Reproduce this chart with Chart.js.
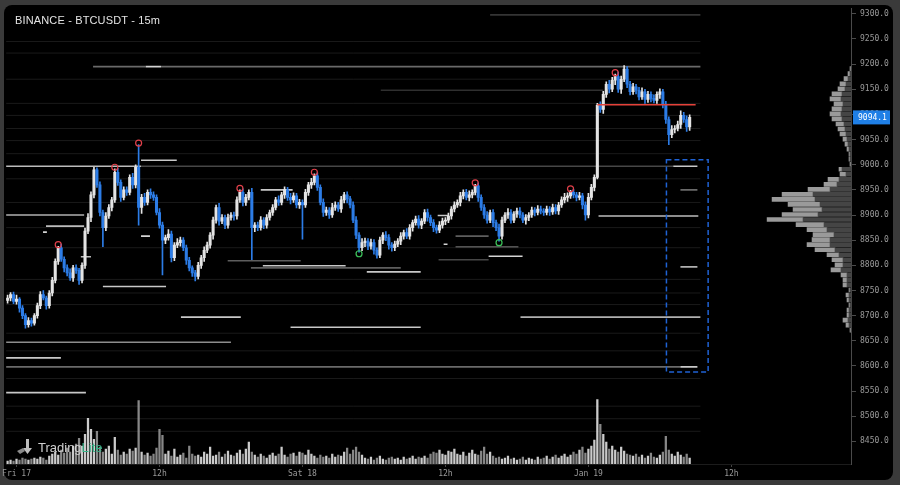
<!DOCTYPE html>
<html><head><meta charset="utf-8">
<script src="https://cdn.jsdelivr.net/npm/chart.js@4/dist/chart.umd.min.js"></script>
<style>
html,body{margin:0;padding:0;background:#3a3a3a;width:900px;height:485px;overflow:hidden}
#panel{position:absolute;left:4px;top:5px;width:889px;height:475px;background:#000;border-radius:8px}
#c{position:absolute;left:0;top:0}
#title{position:absolute;left:15px;top:14px;font:11px "Liberation Sans",Arial,sans-serif;color:#e4e4e4;letter-spacing:0.15px}
#logo{position:absolute;left:16px;top:439px;font:13px "Liberation Sans",Arial,sans-serif;color:#cfcfcf;display:flex;align-items:center;gap:4px}
#logo b{font-weight:normal;color:#36b58a}
</style></head>
<body>
<div id="panel"></div>
<canvas id="c" width="900" height="485"></canvas>
<div id="title">BINANCE - BTCUSDT - 15m</div>
<div id="logo"><svg width="18" height="16" viewBox="0 0 18 16"><path d="M10 0 L13 0 L13 9 L16 9 L11.5 15 L7 9 L10 9 Z" fill="#bdbdbd"/><path d="M1 12 L7 9 L9 12 L4 15 Z" fill="#8a8a8a"/></svg><span>Trading<b>Lite</b></span></div>
<script>
// ---- data (15m candles, first candle Jan 16 23:15) ----
const firstOpen = 8730;
const closes = [
8735,8742,8728,8733,8715,8700,8682,8690,8685,8700,
8720,8742,8735,8720,8745,8770,8808,8835,8812,8795,
8785,8775,8795,8790,8770,8800,8868,8895,8940,8990,
8960,8905,8875,8898,8915,8930,8985,8965,8935,8950,
8945,8975,8960,8995,8915,8935,8925,8945,8940,8935,
8905,8880,8850,8855,8862,8815,8840,8845,8850,8835,
8810,8795,8785,8778,8800,8815,8830,8840,8860,8890,
8915,8888,8895,8880,8895,8900,8898,8930,8945,8925,
8935,8945,8875,8880,8875,8890,8880,8895,8905,8915,
8930,8925,8940,8950,8935,8930,8938,8920,8925,8920,
8945,8960,8965,8978,8955,8925,8905,8910,8900,8915,
8920,8912,8930,8940,8932,8920,8890,8860,8835,8845,
8848,8838,8845,8830,8820,8850,8860,8855,8840,8835,
8842,8848,8858,8865,8858,8875,8885,8892,8880,8888,
8905,8895,8885,8875,8870,8880,8888,8890,8898,8912,
8920,8925,8938,8945,8935,8940,8945,8958,8935,8915,
8900,8890,8905,8885,8875,8858,8890,8900,8905,8890,
8902,8908,8900,8890,8895,8900,8910,8905,8912,8908,
8905,8912,8906,8915,8908,8920,8930,8935,8938,8945,
8940,8935,8938,8920,8900,8935,8955,8975,9118,9110,
9140,9160,9150,9168,9175,9150,9170,9190,9160,9145,
9155,9148,9135,9145,9130,9140,9132,9128,9140,9145,
9120,9090,9060,9070,9072,9080,9098,9090,9075,9094.1];
const wickHi = [
6,4,5,8,3,5,4,6,5,4, 5,6,8,4,5,6,5,3,7,5, 6,8,5,6,4,5,6,8,6,5, 4,6,5,7,6,5,7,8,5,6,
6,5,8,5,45,6,8,5,7,6, 5,8,6,5,9,6,5,8,6,5, 5,6,4,5,6,5,7,6,5,6, 5,8,6,5,7,5,6,6,5,7,
6,5,8,5,6,7,5,6,5,6, 5,8,5,6,5,8,6,5,6,5, 6,5,8,4,6,5,7,6,5,8, 6,5,7,5,6,5,6,7,5,8,
6,5,7,6,5,6,5,7,6,5, 6,5,7,5,8,6,5,6,7,5, 6,7,5,6,5,7,6,5,6,5, 6,5,7,5,6,8,5,3,6,5,
6,7,5,6,5,7,6,5,8,6, 5,6,7,5,6,5,6,5,7,6, 5,6,5,7,6,5,6,8,6,4, 6,5,7,5,6,8,6,5,4,7,
6,5,8,6,5,9,6,7,5,6, 7,5,6,8,5,6,5,7,5,6, 5,6,5,8,6,7,9,6,7,5];
const wickLo = [
5,6,4,5,8,6,7,5,6,4, 5,6,4,7,5,6,5,6,4,8, 6,5,7,6,8,5,6,5,8,6, 5,7,38,6,5,7,5,6,8,5,
6,5,7,6,35,12,6,5,7,6, 5,6,69,7,5,8,6,5,7,6, 8,6,7,9,5,6,7,5,6,8, 6,8,5,7,6,5,8,6,5,7,
6,5,64,8,6,5,7,6,5,6, 5,6,5,7,6,8,5,6,7,68, 5,6,7,5,6,5,8,6,7,5, 6,5,7,6,8,6,5,7,9,6,
8,7,6,8,6,5,7,6,8,7, 6,5,7,6,5,6,7,5,6,7, 5,7,6,8,6,5,6,7,5,6, 6,5,7,6,5,7,6,5,8,6,
7,6,5,8,6,10,6,5,7,6, 5,7,6,5,8,6,5,7,5,6, 6,5,7,5,6,7,5,6,8,5, 6,7,5,8,10,6,5,7,3,6,
8,6,7,5,9,6,8,5,7,6, 5,7,6,5,8,6,7,5,6,8, 7,8,20,6,7,5,8,6,9,7];
const volume = [
3,4,3,5,4,6,5,4,5,6, 5,7,6,4,8,10,12,9,14,11, 16,12,18,20,26,18,30,46,35,25, 33,17,12,15,18,10,27,14,9,12,
10,15,13,16,64,12,9,11,8,10, 16,35,29,10,13,8,15,7,9,11, 6,18,10,8,9,7,12,10,17,8, 9,12,7,10,13,9,8,11,14,10,
15,22,12,9,7,10,8,6,9,11, 8,10,17,9,7,10,11,8,12,11, 9,14,10,8,6,9,7,8,6,10, 7,9,8,12,16,10,14,17,12,9,
6,5,7,4,6,8,5,4,6,7, 5,6,4,7,5,6,8,5,7,6, 8,6,10,12,11,14,10,9,13,12, 15,10,9,12,8,11,14,10,9,13,
17,10,12,8,6,7,5,6,8,5, 6,4,5,7,4,6,5,4,7,5, 6,8,5,7,9,6,8,10,7,9, 12,10,14,17,11,15,18,24,65,40,
30,22,15,18,14,12,17,13,10,9, 8,10,7,9,6,8,11,7,6,9, 12,28,14,10,8,12,9,7,10,6];
const pivotHighs = [17,36,44,78,103,157,189,204];
const pivotLows = [118,165];
const xTickIdx = [3,51,99,147,195,243];
const xTickLabels = ['Fri 17','12h','Sat 18','12h','Jan 19','12h'];
const yTicks = [8450,8500,8550,8600,8650,8700,8750,8800,8850,8900,8950,9000,9050,9100,9150,9200,9250,9300];
// volume profile
const profilePrice = [8675,8685,8695,8705,8715,8725,8735,8745,8755,8765,8775,8785,8795,8805,8815,8825,8835,8845,8855,8865,8875,8885,8895,8905,8915,8925,8935,8945,8955,8965,8975,8985,8995,9005,9015,9025,9035,9045,9055,9065,9075,9085,9095,9105,9115,9125,9135,9145,9155,9165,9175,9185,9195];
const profileSell = [1,3,4,3,3,2,3,3,2,5,5,5,11,9,9,13,17,22,22,18,25,28,49,34,30,32,37,39,22,15,13,6,10,1,2,2,3,4,5,6,7,8,10,11,10,9,11,10,7,6,4,2,1];
const profileBuy  = [1,3,5,2,2,1,2,3,1,4,4,6,10,8,11,12,20,23,18,21,20,28,36,36,29,32,43,31,22,13,11,6,3,1,1,1,2,3,4,6,7,8,10,11,10,9,11,10,7,6,4,2,1];
// order-book level lines: price, from candle, to candle, intensity
const levelPrice = [9195,9195,9195,9298,8997,8997,8997,9009,8950,8900,8878,8866,8858,8842,8817,8758,8799,8795,8787,8818,8858,8899,8837,8811,8809,8898,8950,8797,9148,8697,8697,8677,8647,8616,8598,8598,8547];
const levelFrom  = [28.7,46.4,51.5,162,-0.5,44.8,223.5,44.8,85,-0.5,12.9,11.9,44.8,146.4,24.6,32,85.7,81.7,120.6,161.5,150.4,144.4,150.4,144.7,73.9,198.4,225.9,225.9,125.3,58.2,172.2,95,-0.5,-0.5,-0.5,225.9,-0.5];
const levelTo    = [46.4,51.5,232.6,232.6,44.8,223.5,231.6,56.8,95.7,25.7,25.7,13.2,47.8,147.7,28,53.2,113.5,132,138.7,172.9,161.5,148,171.5,161.5,98.4,231.9,231.6,231.6,200,78.3,232.6,138.7,75,17.9,225.9,231.6,26.3];
const levelAlpha = [.45,.9,.45,.22,.8,.3,.85,.85,.85,.75,.8,.9,.9,.9,.8,.85,.85,.4,.85,.9,.4,.85,.35,.3,.4,.8,.45,.75,.2,.85,.75,.85,.6,.85,.45,.85,.85];
const faintLevels = [9245,9222,9170,9122,9098,9072,9048,9022,8972,8925,8875,8835,8772,8745,8722,8665,8630,8575,8520,8495,8470];
const lastPrice = 9094.1;
const redLevel = 9119, redFrom = 198, redTo = 231;
const boxFrom = 221.2, boxTo = 235.2, boxTop = 9010, boxBottom = 8588;

// ---- derived for the library ----
const idx = closes.map((_, i) => i);
const opens = closes.map((c, i) => i === 0 ? firstOpen : closes[i - 1]);
const highs = closes.map((c, i) => Math.max(opens[i], c) + wickHi[i]);
const lows = closes.map((c, i) => Math.min(opens[i], c) - wickLo[i]);
const up = closes.map((c, i) => c >= opens[i]);
const UP = '#e4e4e4', DOWN = '#2c7ce6';

const overlay = {
  id: 'overlay',
  beforeDatasetsDraw(chart) {
    const {ctx, chartArea: a, scales: {x, y}} = chart;
    ctx.save();
    ctx.beginPath(); ctx.rect(a.left, a.top, a.right - a.left, a.bottom - a.top); ctx.clip();
    ctx.lineWidth = 1;
    faintLevels.forEach(p => {
      const py = y.getPixelForValue(p);
      ctx.strokeStyle = 'rgba(200,200,200,0.13)';
      ctx.beginPath(); ctx.moveTo(x.getPixelForValue(-0.5), py); ctx.lineTo(x.getPixelForValue(232.6), py); ctx.stroke();
    });
    ctx.lineWidth = 1.6;
    levelPrice.forEach((p, k) => {
      const py = y.getPixelForValue(p);
      ctx.strokeStyle = 'rgba(235,235,235,' + levelAlpha[k] + ')';
      ctx.beginPath(); ctx.moveTo(x.getPixelForValue(levelFrom[k]), py); ctx.lineTo(x.getPixelForValue(levelTo[k]), py); ctx.stroke();
    });
    ctx.restore();
  },
  afterDatasetsDraw(chart) {
    const {ctx, scales: {x, y}} = chart;
    ctx.save();
    const ry = y.getPixelForValue(redLevel);
    ctx.strokeStyle = '#e5423a'; ctx.lineWidth = 1.5;
    ctx.beginPath(); ctx.moveTo(x.getPixelForValue(redFrom), ry); ctx.lineTo(x.getPixelForValue(redTo), ry); ctx.stroke();
    ctx.strokeStyle = '#1f62d4'; ctx.lineWidth = 1.5; ctx.setLineDash([5, 3]);
    const x0 = x.getPixelForValue(boxFrom), x1 = x.getPixelForValue(boxTo);
    const y0 = y.getPixelForValue(boxTop), y1 = y.getPixelForValue(boxBottom);
    ctx.strokeRect(x0, y0, x1 - x0, y1 - y0);
    ctx.restore();
  },
  afterDraw(chart) {
    const {ctx, chartArea: a, scales: {y}} = chart;
    const py = y.getPixelForValue(lastPrice);
    ctx.save();
    ctx.fillStyle = '#1f7fe6';
    ctx.fillRect(a.right + 1, py - 7, 37, 14);
    ctx.fillStyle = '#ffffff';
    ctx.font = '8px "DejaVu Sans Mono"';
    ctx.textBaseline = 'middle';
    ctx.fillText(lastPrice.toFixed(1), a.right + 6, py + 0.5);
    ctx.restore();
  }
};

const mono = {family: '"DejaVu Sans Mono", monospace', size: 8};
new Chart(document.getElementById('c'), {
  type: 'bar',
  data: {
    datasets: [
      {type: 'scatter', data: pivotHighs.map(i => ({x: i, y: highs[i] + 3})), pointRadius: 3, borderWidth: 1.2,
       borderColor: '#e0404a', backgroundColor: 'rgba(0,0,0,0)', xAxisID: 'x', yAxisID: 'y', order: 0},
      {type: 'scatter', data: pivotLows.map(i => ({x: i, y: lows[i] - 3})), pointRadius: 3, borderWidth: 1.2,
       borderColor: '#3cc25a', backgroundColor: 'rgba(0,0,0,0)', xAxisID: 'x', yAxisID: 'y', order: 0},
      {data: idx.map(i => ({x: i, y: [opens[i], closes[i]]})), backgroundColor: idx.map(i => up[i] ? UP : DOWN),
       barThickness: 2.4, minBarLength: 1, grouped: false, xAxisID: 'x', yAxisID: 'y', order: 1},
      {data: idx.map(i => ({x: i, y: [lows[i], highs[i]]})), backgroundColor: idx.map(i => up[i] ? UP : DOWN),
       barThickness: 1, grouped: false, xAxisID: 'x', yAxisID: 'y', order: 2},
      {data: idx.map(i => ({x: i, y: volume[i]})), backgroundColor: idx.map(i => up[i] ? 'rgba(225,225,225,0.9)' : 'rgba(150,150,150,0.9)'),
       barThickness: 1.6, grouped: false, xAxisID: 'x', yAxisID: 'yv', order: 3},
      {indexAxis: 'y', stack: 'p', data: profilePrice.map((p, k) => ({x: profileSell[k], y: p})), backgroundColor: '#454545',
       barThickness: 4, xAxisID: 'xp', yAxisID: 'y', order: 4},
      {indexAxis: 'y', stack: 'p', data: profilePrice.map((p, k) => ({x: profileBuy[k], y: p})), backgroundColor: '#9a9a9a',
       barThickness: 4, xAxisID: 'xp', yAxisID: 'y', order: 4}
    ]
  },
  options: {
    responsive: false, animation: false, events: [],
    layout: {padding: {left: 5, top: 5, right: 7, bottom: 5}},
    plugins: {legend: {display: false}, tooltip: {enabled: false}},
    scales: {
      x: {type: 'linear', position: 'bottom', min: -0.5, max: 283.5, offset: false,
          afterBuildTicks: s => { s.ticks = xTickIdx.map(v => ({value: v})); },
          afterFit: s => { s.height = 16; },
          ticks: {autoSkip: false, maxRotation: 0, color: '#9a9a9a', font: mono, padding: 2,
                  callback: (v, i) => xTickLabels[i]},
          grid: {offset: false, drawOnChartArea: false, drawTicks: true, tickLength: 3, color: '#444'},
          border: {display: true, color: '#1c1c1c'}},
      y: {type: 'linear', position: 'right', min: 8405, max: 9310, offset: false,
          afterBuildTicks: s => { s.ticks = yTicks.map(v => ({value: v})); },
          afterFit: s => { s.width = 41; },
          ticks: {color: '#9a9a9a', font: mono, padding: 4, callback: v => Number(v).toFixed(1)},
          grid: {offset: false, drawOnChartArea: false, drawTicks: true, tickLength: 4, color: '#4a4a4a'},
          border: {display: true, color: '#4a4a4a'}},
      yv: {type: 'linear', display: false, min: 0, max: 459, offset: false},
      xp: {type: 'linear', display: false, min: 0, max: 847, reverse: true, offset: false}
    }
  },
  plugins: [overlay]
});
</script>
</body></html>
